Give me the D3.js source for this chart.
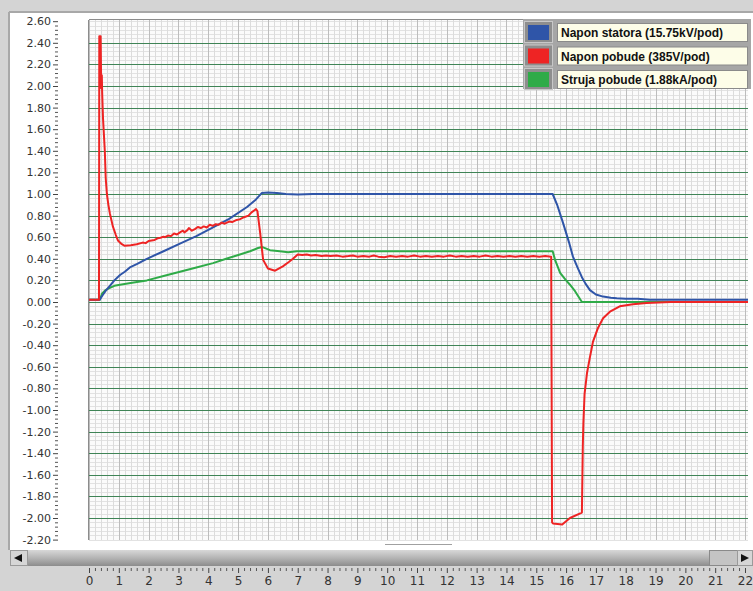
<!DOCTYPE html>
<html><head><meta charset="utf-8">
<script src="https://cdn.jsdelivr.net/npm/d3@7"></script>
<style>html,body{margin:0;padding:0;background:#d4d4d4;}svg{display:block;}</style>
</head><body>
<svg id="c" width="753" height="591"></svg>
<script>
// ---- data ----
const seriesNames = ["Napon statora (15.75kV/pod)", "Napon pobude (385V/pod)", "Struja pobude (1.88kA/pod)"];
const seriesColors = ["#2f55a8", "#ee2424", "#2fab48"];

const statorT = [0, 0.36, 0.45, 0.55, 0.7, 0.85, 1.04, 1.2, 1.37, 1.6, 1.94, 2.5, 3.05, 3.6, 4.16, 4.7, 5.3, 5.6, 5.8, 6.0, 6.3, 6.6, 7.0, 7.5, 15.55, 15.7, 15.9, 16.1, 16.23, 16.4, 16.53, 16.65, 16.8, 17.0, 17.24, 17.5, 17.7, 18.0, 18.4, 18.8, 22.2];
const statorV = [0.02, 0.02, 0.06, 0.10, 0.15, 0.20, 0.25, 0.28, 0.32, 0.35, 0.40, 0.47, 0.54, 0.61, 0.69, 0.77, 0.88, 0.95, 1.01, 1.015, 1.01, 1.00, 0.995, 1.00, 1.00, 0.90, 0.73, 0.55, 0.42, 0.31, 0.23, 0.17, 0.11, 0.07, 0.05, 0.04, 0.035, 0.03, 0.03, 0.02, 0.02];

const fieldVT = [0, 0.335, 0.345, 0.39, 0.41, 0.43, 0.44, 0.47, 0.5, 0.53, 0.56, 0.6, 0.65, 0.7, 0.8, 0.9, 0.97, 1.1,
  1.2, 1.4, 1.6, 1.8, 1.9, 2.0, 2.1, 2.2, 2.3, 2.4, 2.5, 2.55, 2.65, 2.75, 2.85, 2.95, 3.05, 3.15, 3.2, 3.3, 3.35, 3.45, 3.55, 3.65, 3.75, 3.85, 3.95, 4.05, 4.15, 4.25, 4.35, 4.45, 4.55, 4.7, 4.8, 4.95, 5.05, 5.2, 5.35, 5.45, 5.55, 5.6,
  5.65, 5.74, 5.84, 6.0, 6.24, 6.5, 6.7, 6.84,
  7.0, 7.15, 7.3, 7.45, 7.6, 7.8, 7.95, 8.1, 8.3, 8.5, 8.7, 8.85, 9.0, 9.2, 9.4, 9.55, 9.7, 9.9, 10.1, 10.3, 10.5, 10.7, 10.9, 11.1, 11.3, 11.5, 11.7, 11.9, 12.1, 12.3, 12.5, 12.7, 12.9, 13.1, 13.3, 13.5, 13.7, 13.9, 14.1, 14.3, 14.5, 14.7, 14.9, 15.1, 15.3, 15.5,
  15.53, 15.56, 15.87, 16.13, 16.53, 16.56, 16.58, 16.62, 16.7, 16.8, 16.9, 17.07, 17.24, 17.47, 17.8, 18.24, 18.7, 19.5, 22.2];
const fieldVV = [0.02, 0.02, 2.46, 2.46, 1.98, 2.10, 1.95, 1.70, 1.55, 1.40, 1.15, 1.00, 0.90, 0.82, 0.70, 0.62, 0.57, 0.535,
  0.52, 0.525, 0.535, 0.55, 0.545, 0.565, 0.57, 0.575, 0.59, 0.595, 0.605, 0.60, 0.615, 0.61, 0.635, 0.625, 0.645, 0.66, 0.645, 0.665, 0.685, 0.66, 0.675, 0.695, 0.685, 0.70, 0.69, 0.715, 0.705, 0.72, 0.715, 0.735, 0.725, 0.745, 0.74, 0.76, 0.765, 0.785, 0.80, 0.83, 0.85, 0.86,
  0.84, 0.64, 0.39, 0.31, 0.29, 0.33, 0.37, 0.40,
  0.44, 0.435, 0.44, 0.43, 0.435, 0.425, 0.43, 0.425, 0.43, 0.42, 0.425, 0.43, 0.42, 0.425, 0.42, 0.43, 0.42, 0.415, 0.425, 0.42, 0.425, 0.42, 0.43, 0.42, 0.425, 0.42, 0.425, 0.42, 0.43, 0.42, 0.425, 0.42, 0.425, 0.42, 0.43, 0.42, 0.425, 0.42, 0.425, 0.42, 0.425, 0.42, 0.425, 0.42, 0.425, 0.42,
  -2.04, -2.05, -2.06, -2.00, -1.95, -1.34, -1.12, -0.85, -0.66, -0.51, -0.37, -0.24, -0.15, -0.09, -0.04, -0.02, -0.01, 0.00, 0.00];

const fieldIT = [0, 0.36, 0.44, 0.55, 0.7, 0.85, 1.04, 1.5, 1.94, 2.5, 3.05, 3.6, 4.16, 4.6, 5.06, 5.4, 5.67, 5.8, 6.07, 6.4, 6.68, 6.97, 15.5, 15.55, 15.63, 15.8, 16.0, 16.13, 16.3, 16.53, 22.2];
const fieldIV = [0.02, 0.02, 0.08, 0.11, 0.13, 0.15, 0.16, 0.18, 0.20, 0.24, 0.28, 0.32, 0.36, 0.40, 0.44, 0.47, 0.50, 0.51, 0.48, 0.47, 0.46, 0.47, 0.47, 0.47, 0.39, 0.27, 0.20, 0.16, 0.10, 0.00, 0.00];

const yTickValues = [-2.2, -2.0, -1.8, -1.6, -1.4, -1.2, -1.0, -0.8, -0.6, -0.4, -0.2, 0, 0.2, 0.4, 0.6, 0.8, 1.0, 1.2, 1.4, 1.6, 1.8, 2.0, 2.2, 2.4, 2.6];
const xTickValues = [0, 1, 2, 3, 4, 5, 6, 7, 8, 9, 10, 11, 12, 13, 14, 15, 16, 17, 18, 19, 20, 21, 22];

// ---- layout ----
const svg = d3.select("#c");
const P = {l: 89, t: 20, r: 748, b: 540};
const x = d3.scaleLinear().domain([0, 22]).range([89, 745]);
const y = d3.scaleLinear().domain([-2.2, 2.6]).range([539.6, 21.2]);

// background
svg.append("rect").attr("width", 753).attr("height", 591).attr("fill", "#d4d4d4");
svg.append("rect").attr("x", 10).attr("y", 12).attr("width", 743).attr("height", 538).attr("fill", "#ffffff");
svg.append("line").attr("x1", 9).attr("x2", 753).attr("y1", 12).attr("y2", 12).attr("stroke", "#a8a8a8").attr("stroke-width", 2);
svg.append("line").attr("x1", 9).attr("x2", 9).attr("y1", 12).attr("y2", 550).attr("stroke", "#a8a8a8").attr("stroke-width", 2);

// plot area
const plot = svg.append("g");
plot.append("rect").attr("x", P.l).attr("y", P.t).attr("width", P.r - P.l).attr("height", P.b - P.t).attr("fill", "#fbfbfb");
const minorH = d3.range(0, 121).map(i => -2.2 + i * 0.04);
plot.selectAll(".mh").data(minorH).join("line")
  .attr("x1", P.l).attr("x2", P.r)
  .attr("y1", d => Math.round(y(d)) + 0.5).attr("y2", d => Math.round(y(d)) + 0.5)
  .attr("stroke", "#e2e2e2").attr("stroke-width", 1);
const minorV = d3.range(0, 111).map(i => i * 0.2).filter(d => x(d) <= P.r);
plot.selectAll(".mv").data(minorV).join("line")
  .attr("x1", d => Math.round(x(d)) + 0.5).attr("x2", d => Math.round(x(d)) + 0.5)
  .attr("y1", P.t).attr("y2", P.b)
  .attr("stroke", "#dcdcdc").attr("stroke-width", 1);
plot.selectAll(".Mv").data(xTickValues).join("line")
  .attr("x1", d => Math.round(x(d)) + 0.5).attr("x2", d => Math.round(x(d)) + 0.5)
  .attr("y1", P.t).attr("y2", P.b)
  .attr("stroke", "#bdbdbd").attr("stroke-width", 1);
plot.selectAll(".gh").data(yTickValues.filter(d => d > -2.1 && d < 2.5)).join("line")
  .attr("x1", P.l).attr("x2", P.r)
  .attr("y1", d => Math.round(y(d)) + 0.5).attr("y2", d => Math.round(y(d)) + 0.5)
  .attr("stroke", "#3f8456").attr("stroke-width", 1);
plot.append("line").attr("x1", P.l - 0.5).attr("x2", P.l - 0.5).attr("y1", P.t).attr("y2", P.b).attr("stroke", "#8c8c8c");
plot.append("line").attr("x1", P.l).attr("x2", P.r).attr("y1", P.t - 0.5).attr("y2", P.t - 0.5).attr("stroke", "#8c8c8c");

// series
svg.append("clipPath").attr("id", "clp").append("rect").attr("x", P.l).attr("y", P.t).attr("width", P.r - P.l).attr("height", P.b - P.t);
const line = d3.line().x(d => x(d[0])).y(d => y(d[1]));
const series = [
  {t: fieldIT, v: fieldIV, c: seriesColors[2]},
  {t: statorT, v: statorV, c: seriesColors[0]},
  {t: fieldVT, v: fieldVV, c: seriesColors[1]}
];
const lines = svg.append("g").attr("clip-path", "url(#clp)");
series.forEach(s => {
  lines.append("path").datum(s.t.map((t, i) => [t, s.v[i]]))
    .attr("d", line).attr("fill", "none").attr("stroke", s.c)
    .attr("stroke-width", 2).attr("stroke-linejoin", "round");
});

svg.append("line").attr("x1", 385).attr("x2", 452).attr("y1", 544.5).attr("y2", 544.5).attr("stroke", "#a0a0a0");

// y axis
const yAxis = d3.axisLeft(y).tickValues(yTickValues).tickSize(5).tickPadding(2)
  .tickFormat(d => d3.format(".2f")(d).replace("−", "-"));
const yg = svg.append("g").attr("transform", "translate(58,0)").call(yAxis);
yg.select(".domain").remove();
yg.selectAll("text").attr("font-family", "DejaVu Sans, sans-serif").attr("font-size", 11).attr("fill", "#333");
yg.selectAll("line").attr("stroke", "#444");
const yMinor = d3.range(0, 121).map(i => -2.2 + i * 0.04).filter((d, i) => i % 5 !== 0);
const ym = d3.axisLeft(y).tickValues(yMinor).tickSize(3).tickFormat("");
const ymg = svg.append("g").attr("transform", "translate(58,0)").call(ym);
ymg.select(".domain").remove();
ymg.selectAll("line").attr("stroke", "#555");

// scrollbar
const grad = svg.append("defs").append("linearGradient").attr("id", "sg").attr("x1", 0).attr("x2", 0).attr("y1", 0).attr("y2", 1);
grad.append("stop").attr("offset", "0").attr("stop-color", "#d8d8d8");
grad.append("stop").attr("offset", "0.5").attr("stop-color", "#b4b4b4");
grad.append("stop").attr("offset", "1").attr("stop-color", "#8c8c8c");
svg.append("rect").attr("x", 10).attr("y", 550).attr("width", 743).attr("height", 16).attr("fill", "url(#sg)");
svg.append("rect").attr("x", 10.5).attr("y", 550.5).attr("width", 17).attr("height", 15).attr("fill", "#d6d6d6").attr("stroke", "#9a9a9a");
svg.append("path").attr("d", "M14,558 L22,554 L22,562 Z").attr("fill", "#111");
svg.append("rect").attr("x", 709.5).attr("y", 550.5).attr("width", 28).attr("height", 15).attr("fill", "#c4c4c4").attr("stroke", "#8a8a8a");
svg.append("rect").attr("x", 737.5).attr("y", 550.5).attr("width", 15).attr("height", 15).attr("fill", "#d6d6d6").attr("stroke", "#9a9a9a");
svg.append("path").attr("d", "M749,558 L741,554 L741,562 Z").attr("fill", "#111");

// x axis
const xAxis = d3.axisBottom(x).tickValues(xTickValues).tickSize(5).tickPadding(3);
const xg = svg.append("g").attr("transform", "translate(0,568)").call(xAxis);
xg.select(".domain").remove();
xg.selectAll("text").attr("font-family", "DejaVu Sans, sans-serif").attr("font-size", 12).attr("fill", "#333");
xg.selectAll("line").attr("stroke", "#444");
const xMinor = d3.range(0, 111).map(i => i * 0.2).filter((d, i) => i % 5 !== 0 && x(d) < 752);
const xm = d3.axisBottom(x).tickValues(xMinor).tickSize(3).tickFormat("");
const xmg = svg.append("g").attr("transform", "translate(0,568)").call(xm);
xmg.select(".domain").remove();
xmg.selectAll("line").attr("stroke", "#555");

// legend
const lg = svg.append("g");
lg.append("rect").attr("x", 523).attr("y", 19).attr("width", 228).attr("height", 70).attr("fill", "#a6a6a6");
seriesNames.forEach((name, i) => {
  const y0 = 20 + i * 23.5;
  lg.append("rect").attr("x", 524.5).attr("y", y0 + 1.5).attr("width", 28).attr("height", 21).attr("fill", "#8e8e8e").attr("stroke", "#c8c8c8");
  lg.append("rect").attr("x", 528).attr("y", y0 + 5).attr("width", 21).attr("height", 15).attr("fill", seriesColors[i]);
  lg.append("rect").attr("x", 557.5).attr("y", y0 + 3.5).attr("width", 190).attr("height", 18).attr("fill", "#fdfde8").attr("stroke", "#8a8a8a");
  lg.append("text").attr("x", 561).attr("y", y0 + 17).text(name)
    .attr("font-family", "Liberation Sans, Arial, sans-serif").attr("font-weight", "bold").attr("font-size", 12).attr("fill", "#111");
});
</script>
</body></html>
